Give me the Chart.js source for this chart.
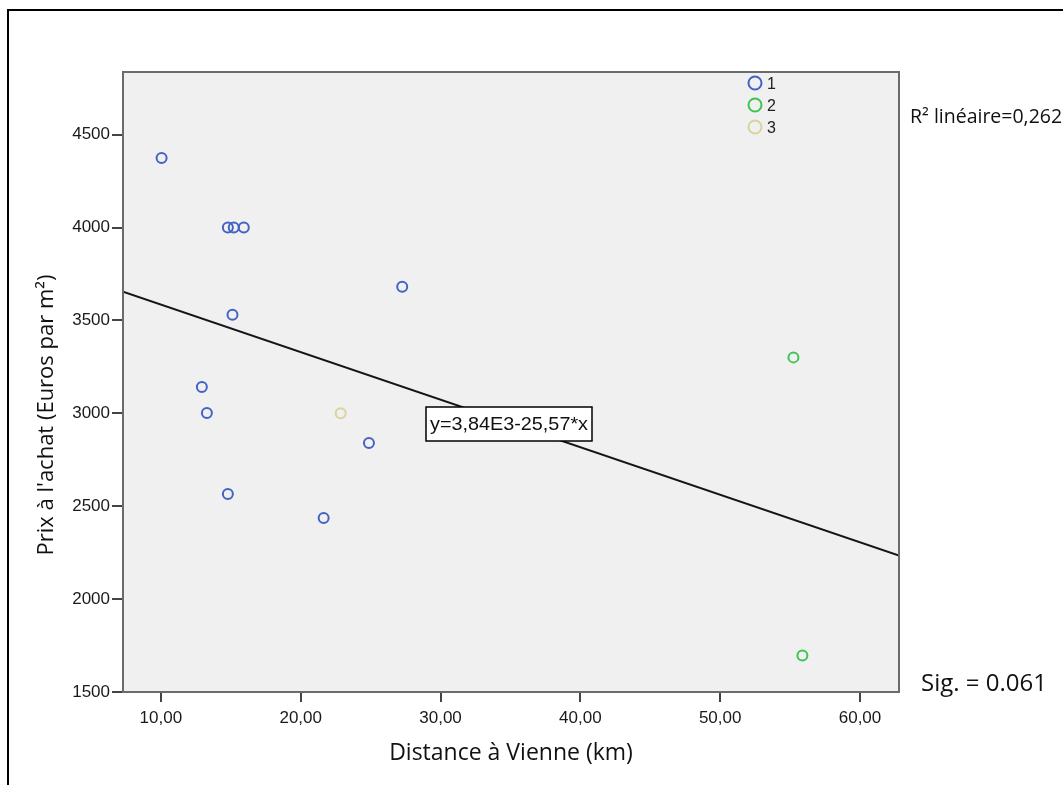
<!DOCTYPE html>
<html lang="fr">
<head>
<meta charset="utf-8">
<script src="https://cdn.jsdelivr.net/npm/chart.js@4/dist/chart.umd.min.js"></script>
<style>
  html, body { margin: 0; padding: 0; background: #fff; }
  #zone { width: 1063px; height: 785px; }
</style>
</head>
<body>
<div id="zone"><canvas id="nuage" width="1063" height="785"></canvas></div>
<script>
// groupes de la legende
const groupes = ['1', '2', '3'];
const couleursGroupes = ['#4262c4', '#3ec452', '#d9d39d'];

// distance a Vienne (km) / prix a l'achat (euros par m2)
const distanceG1 = [10.05, 14.79, 15.21, 15.93, 27.26, 15.12, 12.93, 13.29, 14.79, 21.64, 24.88];
const prixG1 =     [4374, 4000, 4000, 4000, 3681, 3530, 3141, 3002, 2566, 2437, 2840];
const distanceG2 = [55.24, 55.88];
const prixG2 =     [3301, 1697];
const distanceG3 = [22.86];
const prixG3 =     [3000];

// droite d'ajustement, extremites
const droiteX = [7.29, 62.79];
const droiteY = [3654, 2235];

// axes
const bornesX = [7.29, 62.79];
const bornesY = [1500, 4837];
const ticksX = [10, 20, 30, 40, 50, 60];
const ticksY = [1500, 2000, 2500, 3000, 3500, 4000, 4500];

const titreX = 'Distance à Vienne (km)';
const titreY = "Prix à l'achat (Euros par m²)";
const equation = 'y=3,84E3-25,57*x';
const texteR2 = 'R² linéaire=0,262';
const texteSig = 'Sig. = 0.061';

function points(xs, ys) {
    return xs.map((x, i) => ({ x: x, y: ys[i] }));
}

/**
 * fond gris de la zone de trace, cadres, legende et textes
 */
const decor = {
    id: 'decor',
    beforeDatasetsDraw(chart) {
        const { ctx, chartArea: a } = chart;
        ctx.save();
        ctx.fillStyle = '#f0f0f0';
        ctx.fillRect(a.left, a.top, a.right - a.left, a.bottom - a.top);
        ctx.restore();
    },
    afterDatasetsDraw(chart) {
        const { ctx, chartArea: a } = chart;
        ctx.save();
        // cadre de la zone de trace
        ctx.strokeStyle = '#6b6b6b';
        ctx.lineWidth = 2;
        ctx.strokeRect(a.left, a.top, a.right - a.left, a.bottom - a.top);

        // cadre exterieur
        ctx.strokeStyle = '#000';
        ctx.lineWidth = 2;
        ctx.strokeRect(8, 10, 1200, 900);

        // boite de l'equation
        const cx = 509, cy = 424;
        ctx.fillStyle = '#fff';
        ctx.fillRect(cx - 83, cy - 17, 166, 34);
        ctx.strokeStyle = '#000';
        ctx.lineWidth = 1.5;
        ctx.strokeRect(cx - 83, cy - 17, 166, 34);
        ctx.font = '18px "Liberation Sans", Arial, sans-serif';
        const w = ctx.measureText(equation).width;
        ctx.translate(cx, cy + 1);
        ctx.scale(158 / w, 1);
        ctx.fillStyle = '#111';
        ctx.textAlign = 'center';
        ctx.textBaseline = 'middle';
        ctx.fillText(equation, 0, 0);
        ctx.restore();

        // legende
        ctx.save();
        ctx.font = '16px "Liberation Sans", Arial, sans-serif';
        ctx.textBaseline = 'middle';
        ctx.textAlign = 'left';
        for (let i = 0; i < groupes.length; i++) {
            const y = 83 + i * 22;
            ctx.beginPath();
            ctx.arc(755, y, 6.5, 0, Math.PI * 2);
            ctx.strokeStyle = couleursGroupes[i];
            ctx.lineWidth = 2;
            ctx.stroke();
            ctx.fillStyle = '#222';
            ctx.fillText(groupes[i], 767, y + 2);
        }

        // textes a droite
        ctx.fillStyle = '#111';
        ctx.textBaseline = 'alphabetic';
        ctx.font = '19.5px "Open Sans", sans-serif';
        ctx.fillText(texteR2, 910, 123);
        ctx.font = '24px "Open Sans", sans-serif';
        ctx.fillText(texteSig, 921, 691);

        // titre de l'axe vertical
        ctx.translate(47, 415);
        ctx.rotate(-Math.PI / 2);
        ctx.textAlign = 'center';
        ctx.textBaseline = 'middle';
        ctx.font = '22px "Open Sans", sans-serif';
        ctx.fillText(titreY, 0, 0);
        ctx.restore();
    }
};

const graphique = new Chart(document.getElementById('nuage'), {
    type: 'scatter',
    data: {
        datasets: [
            {
                type: 'line',
                data: points(droiteX, droiteY),
                borderColor: '#151515',
                borderWidth: 2,
                pointRadius: 0,
                fill: false
            },
            {
                label: groupes[0],
                data: points(distanceG1, prixG1),
                borderColor: couleursGroupes[0],
                backgroundColor: 'rgba(0,0,0,0)',
                pointRadius: 5,
                borderWidth: 2
            },
            {
                label: groupes[1],
                data: points(distanceG2, prixG2),
                borderColor: couleursGroupes[1],
                backgroundColor: 'rgba(0,0,0,0)',
                pointRadius: 5,
                borderWidth: 2
            },
            {
                label: groupes[2],
                data: points(distanceG3, prixG3),
                borderColor: couleursGroupes[2],
                backgroundColor: 'rgba(0,0,0,0)',
                pointRadius: 5,
                borderWidth: 2
            }
        ]
    },
    options: {
        responsive: false,
        animation: false,
        layout: { padding: { top: 72, right: 164, left: 0, bottom: 0 } },
        plugins: {
            legend: { display: false },
            tooltip: { enabled: false }
        },
        scales: {
            x: {
                type: 'linear',
                min: bornesX[0],
                max: bornesX[1],
                afterBuildTicks: (s) => { s.ticks = ticksX.map(v => ({ value: v })); },
                afterFit: (s) => { s.height = 93; },
                border: { display: false },
                grid: { drawOnChartArea: false, drawTicks: true, tickLength: 10, color: '#444', lineWidth: 2 },
                ticks: {
                    padding: 6,
                    color: '#1a1a1a',
                    font: { family: '"Liberation Sans", Arial, sans-serif', size: 17 },
                    callback: (v) => v.toFixed(2).replace('.', ',')
                },
                title: {
                    display: true,
                    text: titreX,
                    color: '#111',
                    font: { family: '"Open Sans", sans-serif', size: 23 },
                    padding: { top: 0, bottom: 18 }
                }
            },
            y: {
                type: 'linear',
                min: bornesY[0],
                max: bornesY[1],
                afterBuildTicks: (s) => { s.ticks = ticksY.map(v => ({ value: v })); },
                afterFit: (s) => { s.width = 123; },
                border: { display: false },
                grid: { drawOnChartArea: false, drawTicks: true, tickLength: 11, color: '#444', lineWidth: 2 },
                ticks: {
                    padding: 2,
                    color: '#1a1a1a',
                    font: { family: '"Liberation Sans", Arial, sans-serif', size: 17 },
                    callback: (v) => String(v)
                }
            }
        }
    },
    plugins: [decor]
});
</script>
</body>
</html>
